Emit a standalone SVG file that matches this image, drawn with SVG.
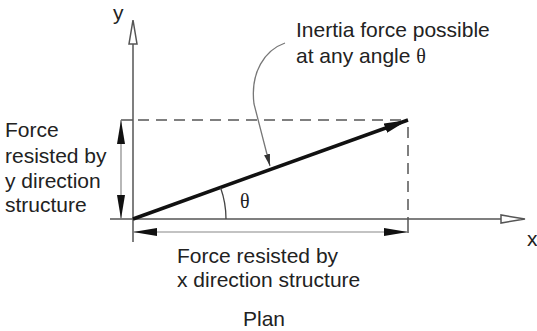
<svg xmlns="http://www.w3.org/2000/svg" width="537" height="331" viewBox="0 0 537 331">
<style>
  text { font-family: "Liberation Sans", Arial, sans-serif; font-size: 21px; fill: #222; }
  .th { font-family: "Liberation Serif", "Times New Roman", serif; font-size: 20px; }
  .axis { stroke: #555; stroke-width: 1.5; fill: none; }
  .dim { stroke: #888; stroke-width: 1.2; fill: none; }
  .dash { stroke: #555; stroke-width: 1.5; fill: none; stroke-dasharray: 11 7; }
  .hollow { fill: #fff; stroke: #555; stroke-width: 1.5; }
  .solid { fill: #111; stroke: none; }
</style>
<defs>
  <marker id="dimArrow" viewBox="0 0 24 8" refX="24" refY="4" markerWidth="24" markerHeight="8" markerUnits="userSpaceOnUse" orient="auto-start-reverse">
    <path d="M0,0 L24,4 L0,8 Z" class="solid"/>
  </marker>
  <marker id="forceArrow" viewBox="0 0 24 10" refX="24" refY="5" markerWidth="24" markerHeight="10" markerUnits="userSpaceOnUse" orient="auto">
    <path d="M0,0 L24,5 L0,10 Z" class="solid"/>
  </marker>
  <marker id="leadArrow" viewBox="0 0 12 6" refX="12" refY="3" markerWidth="12" markerHeight="6" markerUnits="userSpaceOnUse" orient="auto">
    <path d="M0,0 L12,3 L0,6 Z" fill="#333"/>
  </marker>
</defs>

<g id="axes">
  <line class="axis" x1="133" y1="44" x2="133" y2="242"/>
  <path class="hollow" d="M133,20 L137,44 L129,44 Z"/>
  <line class="axis" x1="110" y1="219" x2="501" y2="219"/>
  <path class="hollow" d="M525,219 L501,223 L501,215 Z"/>
  <text x="113" y="20">y</text>
  <text x="527" y="246">x</text>
</g>

<g id="connectors">
  <line class="axis" x1="121" y1="120" x2="133" y2="120"/>
  <line class="dash" x1="138" y1="120" x2="408" y2="120"/>
  <line class="dash" x1="408" y1="127" x2="408" y2="219"/>
  <line class="axis" x1="408" y1="219" x2="408" y2="233"/>
  <line class="dim" x1="121" y1="120" x2="121" y2="219" marker-start="url(#dimArrow)" marker-end="url(#dimArrow)"/>
  <line class="dim" x1="133" y1="232" x2="408" y2="232" marker-start="url(#dimArrow)" marker-end="url(#dimArrow)"/>
  <line x1="133" y1="219" x2="408" y2="120" stroke="#111" stroke-width="3.5" marker-end="url(#forceArrow)"/>
  <path d="M226,219 A93,93 0 0 0 220.6,187.7" fill="none" stroke="#444" stroke-width="1.3"/>
  <path d="M285,43 C265,50 250,72 254,104 L270,166" fill="none" stroke="#777" stroke-width="1.3" marker-end="url(#leadArrow)"/>
</g>

<g id="label-inertia">
  <text x="296" y="37">Inertia force possible</text>
  <text x="296" y="63">at any angle <tspan class="th">θ</tspan></text>
</g>
<g id="label-theta">
  <text class="th" x="240" y="208">θ</text>
</g>
<g id="label-y-force">
  <text x="5" y="137">Force</text>
  <text x="5" y="163">resisted by</text>
  <text x="5" y="188">y direction</text>
  <text x="5" y="212">structure</text>
</g>
<g id="label-x-force">
  <text x="177" y="263">Force resisted by</text>
  <text x="177" y="287">x direction structure</text>
</g>
<g id="label-plan">
  <text x="243" y="326">Plan</text>
</g>
</svg>
